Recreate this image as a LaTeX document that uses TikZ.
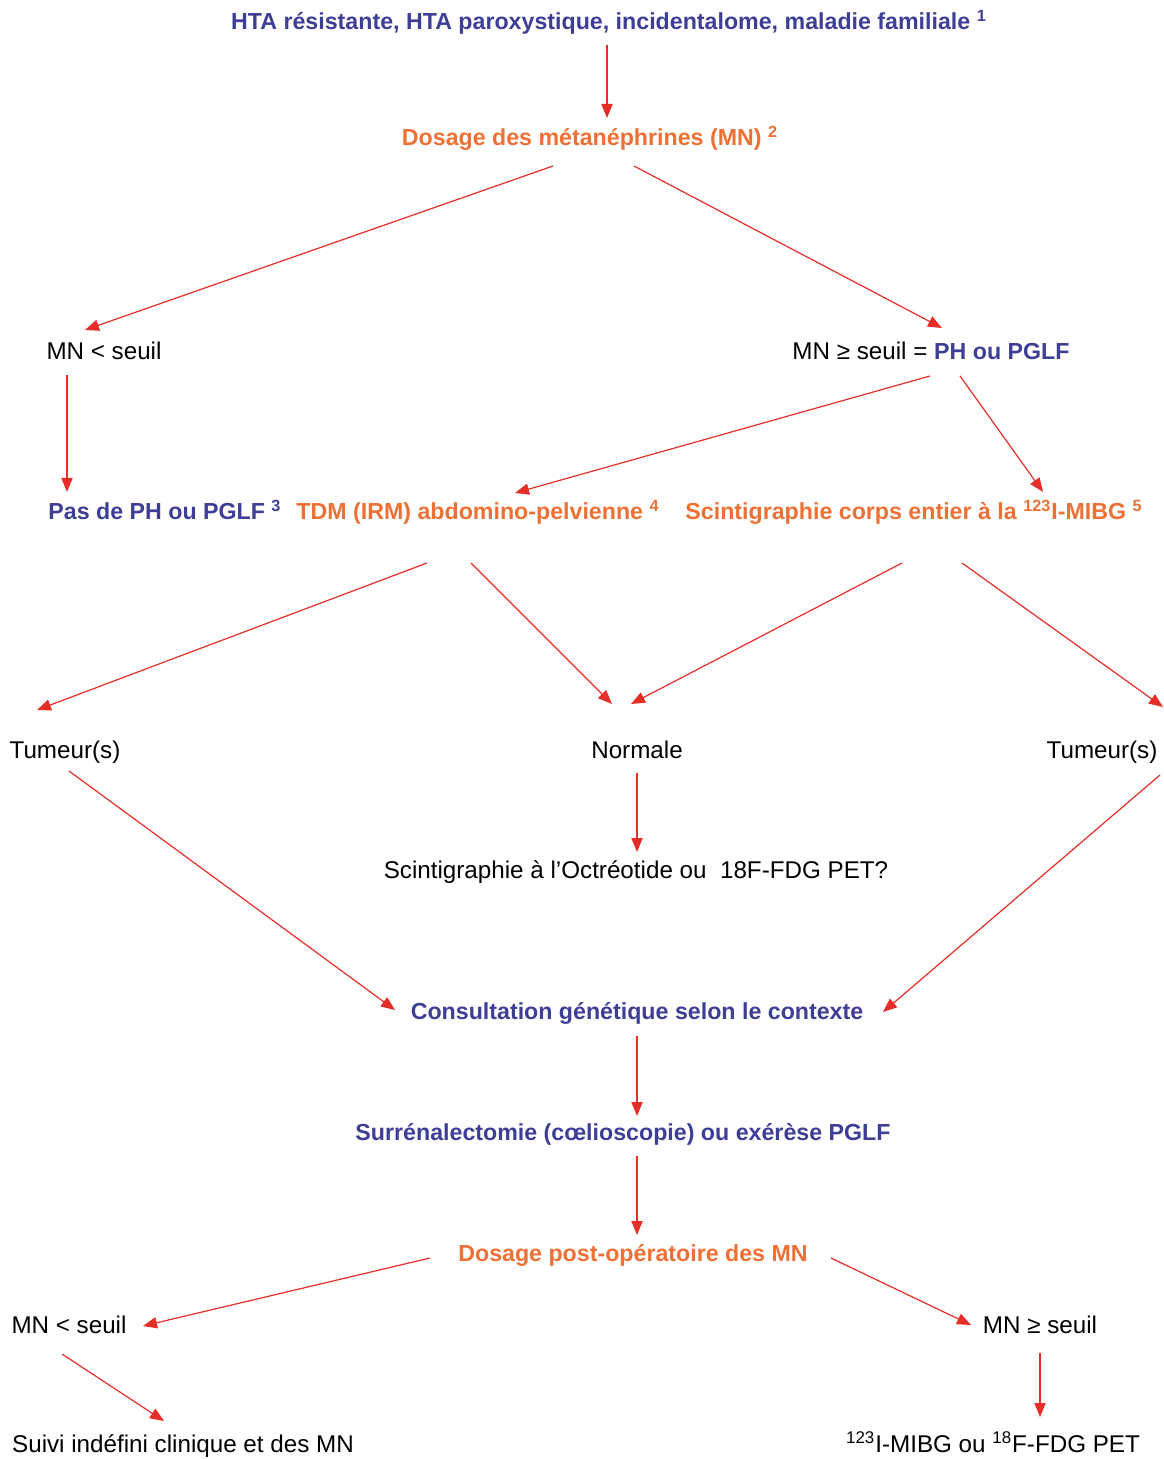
\documentclass[tikz,border=0pt]{standalone}
\usepackage{fontspec}
\setmainfont{Liberation Sans}
\usetikzlibrary{calc,arrows.meta}
\definecolor{bleuF}{RGB}{62,62,150}
\definecolor{orangeF}{RGB}{238,112,52}
\definecolor{rougeF}{RGB}{230,45,40}
\begin{document}
\begin{tikzpicture}[x=0.5pt,y=-0.5pt,
  every node/.style={inner sep=0pt,text height=10pt,text depth=2pt},
  bleutxt/.style={text=bleuF,font=\bfseries\fontsize{11.6}{13}\selectfont},
  orangetxt/.style={text=orangeF,font=\bfseries\fontsize{11.6}{13}\selectfont},
  noirtxt/.style={text=black,font=\fontsize{12.1}{14}\selectfont},
  fl/.style={draw=rougeF,line width=0.6pt,-{Triangle[length=7pt,width=5.6pt]}}]
\useasboundingbox (0,0) rectangle (1163,1459);
% noeuds
\node[bleutxt] (top) at (609,22) {HTA résistante, HTA paroxystique, incidentalome, maladie familiale \textsuperscript{1}};
\node[orangetxt] (dose) at (590,138) {Dosage des métanéphrines (MN) \textsuperscript{2}};
\node[noirtxt] (mnlo) at (104,352) {MN < seuil};
\node[noirtxt] (mnhi) at (931,352) {MN ≥ seuil = \textcolor{bleuF}{\bfseries\fontsize{11.6}{13}\selectfont PH ou PGLF}};
\node[bleutxt] (pas) at (165,512) {Pas de PH ou PGLF \textsuperscript{3}};
\node[orangetxt] (tdm) at (478,512) {TDM (IRM) abdomino-pelvienne \textsuperscript{4}};
\node[orangetxt] (scint) at (914,512) {Scintigraphie corps entier à la \textsuperscript{123}I-MIBG \textsuperscript{5}};
\node[noirtxt] (tuml) at (65,750) {Tumeur(s)};
\node[noirtxt] (norm) at (637,750) {Normale};
\node[noirtxt] (tumr) at (1102,750) {Tumeur(s)};
\node[noirtxt] (octr) at (636,870) {Scintigraphie à l’Octréotide ou\ \ 18F-FDG PET?};
\node[bleutxt] (cons) at (637,1011) {Consultation génétique selon le contexte};
\node[bleutxt] (surr) at (623,1132) {Surrénalectomie (cœlioscopie) ou exérèse PGLF};
\node[orangetxt] (post) at (633,1253) {Dosage post-opératoire des MN};
\node[noirtxt] (mnlob) at (69,1325) {MN < seuil};
\node[noirtxt] (mnhib) at (1040,1325) {MN ≥ seuil};
\node[noirtxt] (suivi) at (183,1444) {Suivi indéfini clinique et des MN};
\node[noirtxt] (mibg) at (993,1444) {\textsuperscript{123}I-MIBG ou \textsuperscript{18}F-FDG PET};
% fleches
\draw[fl] ($(top)+(-2,23)$) -- ($(dose)+(17,-20)$);
\draw[fl] ($(dose)+(-37,28)$) -- ($(mnlo)+(-19,-22)$);
\draw[fl] ($(dose)+(44,28)$) -- ($(mnhi)+(11,-24)$);
\draw[fl] ($(mnlo)+(-37,23)$) -- ($(pas)+(-98,-20)$);
\draw[fl] ($(mnhi)+(-1,24)$) -- ($(tdm)+(37,-19)$);
\draw[fl] ($(mnhi)+(29,24)$) -- ($(scint)+(129,-20)$);
\draw[fl] ($(tdm)+(-51,51)$) -- ($(tuml)+(-28,-40)$);
\draw[fl] ($(tdm)+(-7,51)$) -- ($(norm)+(-25,-46)$);
\draw[fl] ($(scint)+(-12,51)$) -- ($(norm)+(-6,-46)$);
\draw[fl] ($(scint)+(48,51)$) -- ($(tumr)+(61,-43)$);
\draw[fl] ($(norm)+(0,23)$) -- ($(octr)+(1,-18)$);
\draw[fl] ($(tuml)+(4,21)$) -- ($(cons)+(-242,-1)$);
\draw[fl] ($(tumr)+(58,25)$) -- ($(cons)+(246,1)$);
\draw[fl] ($(cons)+(0,25)$) -- ($(surr)+(14,-16)$);
\draw[fl] ($(surr)+(14,24)$) -- ($(post)+(4,-18)$);
\draw[fl] ($(post)+(-203,5)$) -- ($(mnlob)+(74,1)$);
\draw[fl] ($(post)+(198,5)$) -- ($(mnhib)+(-69,0)$);
\draw[fl] ($(mnlob)+(-7,29)$) -- ($(suivi)+(-19,-23)$);
\draw[fl] ($(mnhib)+(0,28)$) -- ($(mibg)+(47,-27)$);
\end{tikzpicture}
\end{document}
